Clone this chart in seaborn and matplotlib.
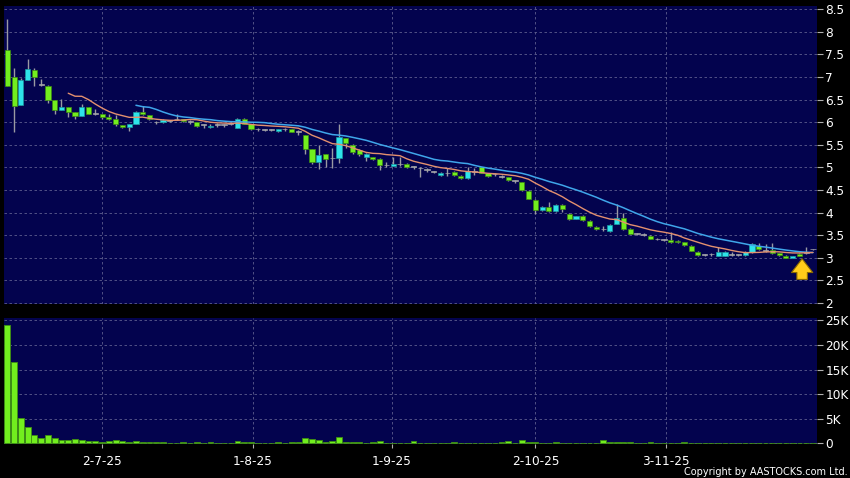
import pandas as pd
import seaborn as sns
import matplotlib.pyplot as plt
from matplotlib.ticker import FuncFormatter

# daily OHLC (one entry per trading day)
opens = [7.59, 6.99, 6.39, 6.94, 7.15, 6.83, 6.80, 6.49, 6.27, 6.34,
         6.22, 6.14, 6.34, 6.19, 6.19, 6.12, 6.08, 5.94, 5.89, 5.97,
         6.22, 6.17, 6.00, 6.00, 6.03, 6.06, 6.06, 6.01, 6.00, 5.94,
         5.89, 5.94, 5.94, 5.97, 5.88, 6.08, 5.95, 5.84, 5.83, 5.83,
         5.80, 5.84, 5.84, 5.79, 5.71, 5.40, 5.11, 5.29, 5.20, 5.20,
         5.64, 5.49, 5.38, 5.23, 5.22, 5.18, 5.05, 5.04, 5.07, 5.08,
         5.01, 4.98, 4.94, 4.90, 4.84, 4.87, 4.89, 4.81, 4.76, 4.90,
         5.01, 4.87, 4.85, 4.79, 4.78, 4.70, 4.67, 4.48, 4.28, 4.06,
         4.12, 4.03, 4.17, 3.98, 3.86, 3.92, 3.82, 3.69, 3.63, 3.60,
         3.75, 3.87, 3.64, 3.53, 3.51, 3.49, 3.41, 3.40, 3.39, 3.38,
         3.34, 3.27, 3.13, 3.06, 3.08, 3.04, 3.04, 3.06, 3.06, 3.06,
         3.12, 3.27, 3.16, 3.17, 3.10, 3.05, 3.00, 3.09, 3.11, 3.19]
highs = [8.29, 7.19, 6.98, 7.39, 7.19, 6.96, 6.82, 6.50, 6.51, 6.34,
         6.22, 6.40, 6.34, 6.29, 6.19, 6.19, 6.15, 5.94, 5.97, 6.25,
         6.36, 6.17, 6.03, 6.06, 6.05, 6.19, 6.08, 6.04, 6.01, 5.96,
         5.97, 5.99, 5.97, 6.00, 6.10, 6.10, 5.97, 5.87, 5.85, 5.85,
         5.86, 5.88, 5.85, 5.82, 5.72, 5.40, 5.49, 5.30, 5.42, 5.95,
         5.66, 5.52, 5.40, 5.32, 5.24, 5.20, 5.12, 5.24, 5.24, 5.10,
         5.04, 5.00, 4.98, 4.93, 4.90, 4.98, 4.92, 4.83, 5.00, 4.99,
         5.02, 4.88, 4.88, 4.83, 4.79, 4.73, 4.68, 4.49, 4.29, 4.14,
         4.24, 4.19, 4.18, 4.00, 3.93, 3.94, 3.83, 3.71, 3.70, 3.74,
         4.20, 4.00, 3.65, 3.55, 3.55, 3.50, 3.43, 3.42, 3.56, 3.40,
         3.35, 3.28, 3.14, 3.08, 3.10, 3.23, 3.14, 3.13, 3.08, 3.14,
         3.32, 3.32, 3.31, 3.33, 3.11, 3.06, 3.04, 3.10, 3.25, 3.20]
lows = [6.80, 5.79, 6.39, 6.94, 6.81, 6.80, 6.42, 6.19, 6.27, 6.11,
        6.08, 6.14, 6.19, 6.16, 6.08, 6.05, 5.92, 5.87, 5.80, 5.97,
        6.16, 6.05, 5.97, 5.99, 6.01, 6.04, 6.00, 5.97, 5.90, 5.88,
        5.88, 5.89, 5.90, 5.93, 5.88, 5.96, 5.82, 5.80, 5.80, 5.81,
        5.79, 5.80, 5.78, 5.71, 5.29, 5.08, 4.96, 5.00, 4.98, 5.09,
        5.42, 5.30, 5.25, 5.15, 5.16, 4.94, 5.02, 5.03, 5.04, 4.98,
        4.97, 4.79, 4.89, 4.87, 4.82, 4.82, 4.82, 4.74, 4.74, 4.83,
        4.87, 4.79, 4.81, 4.76, 4.70, 4.66, 4.48, 4.29, 3.98, 4.04,
        4.02, 4.02, 4.02, 3.84, 3.85, 3.82, 3.68, 3.61, 3.59, 3.58,
        3.74, 3.62, 3.52, 3.50, 3.49, 3.41, 3.39, 3.38, 3.33, 3.33,
        3.27, 3.14, 3.04, 3.03, 3.05, 3.03, 3.03, 3.04, 3.04, 3.05,
        3.11, 3.18, 3.12, 3.09, 3.05, 2.99, 2.99, 3.04, 3.09, 3.18]
closes = [6.80, 6.36, 6.93, 7.17, 7.00, 6.83, 6.49, 6.27, 6.34, 6.22,
          6.14, 6.34, 6.19, 6.19, 6.12, 6.07, 5.95, 5.89, 5.97, 6.22,
          6.18, 6.07, 6.00, 6.04, 6.03, 6.06, 6.02, 6.01, 5.91, 5.94,
          5.92, 5.94, 5.94, 5.97, 6.08, 5.97, 5.84, 5.84, 5.83, 5.83,
          5.85, 5.84, 5.79, 5.79, 5.40, 5.11, 5.27, 5.18, 5.20, 5.68,
          5.55, 5.35, 5.29, 5.30, 5.18, 5.05, 5.05, 5.07, 5.07, 5.00,
          5.01, 4.98, 4.94, 4.90, 4.88, 4.87, 4.83, 4.76, 4.92, 4.90,
          4.88, 4.81, 4.85, 4.79, 4.72, 4.70, 4.50, 4.31, 4.06, 4.13,
          4.03, 4.17, 4.09, 3.86, 3.92, 3.83, 3.70, 3.63, 3.63, 3.72,
          3.89, 3.63, 3.53, 3.53, 3.51, 3.42, 3.41, 3.40, 3.34, 3.34,
          3.28, 3.15, 3.06, 3.06, 3.08, 3.13, 3.13, 3.06, 3.06, 3.13,
          3.30, 3.19, 3.16, 3.10, 3.06, 2.99, 3.03, 3.05, 3.11, 3.19]
volumes = [24000, 16600, 5100, 3400, 1700, 1000, 1700, 1050, 700, 600,
           800, 600, 500, 400, 300, 500, 700, 400, 300, 500,
           300, 250, 200, 200, 150, 150, 250, 150, 300, 150,
           200, 150, 100, 100, 450, 350, 250, 150, 100, 150,
           200, 150, 200, 250, 1000, 800, 600, 300, 400, 1250,
           350, 250, 200, 150, 200, 500, 150, 100, 100, 150,
           400, 150, 150, 100, 150, 100, 200, 150, 100, 150,
           100, 100, 150, 200, 500, 150, 700, 350, 350, 150,
           150, 250, 100, 100, 100, 150, 100, 150, 600, 250,
           250, 200, 200, 100, 150, 200, 100, 100, 100, 100,
           200, 150, 100, 100, 100, 100, 100, 100, 100, 80,
           100, 100, 80, 100, 80, 100, 80, 100, 80, 60]

date_labels = ['2-7-25', '1-8-25', '1-9-25', '2-10-25', '3-11-25']
date_at = [14.0, 36.3, 56.8, 78.0, 97.3]
price_ticks = [2, 2.5, 3, 3.5, 4, 4.5, 5, 5.5, 6, 6.5, 7, 7.5, 8, 8.5]
vol_ticks = [0, 5000, 10000, 15000, 20000, 25000]
vol_labels = ['0', '5K', '10K', '15K', '20K', '25K']

navy = '#03034e'
grid_c = '#5d5d8e'
green = '#72ee1e'
cyan = '#2ee3ea'
doji = '#a4a4a8'

sns.set_theme(style='dark', rc={'axes.facecolor': navy, 'figure.facecolor': 'black'})
plt.rcParams['font.family'] = ['DejaVu Sans']

df = pd.DataFrame({'open': opens, 'high': highs, 'low': lows,
                   'close': closes, 'volume': volumes})
df['idx'] = range(len(df))
df['ma10'] = df['close'].rolling(10).mean()
df['ma20'] = df['close'].rolling(20).mean()

fig = plt.figure(figsize=(8.5, 4.78), dpi=100)
ax = fig.add_axes([0.0047, 0.364, 0.9565, 0.623])
axv = fig.add_axes([0.0047, 0.0711, 0.9565, 0.2636])

# candles: cyan = up, green = down, grey = unchanged
col = ['#9a9aa2'] * len(df)
body_col = [cyan if c > o else (green if c < o else doji) for o, c in zip(df['open'], df['close'])]
edge_col = ['#1a9aa0' if c > o else ('#3c8c10' if c < o else doji) for o, c in zip(df['open'], df['close'])]
ax.vlines(df['idx'], df['low'], df['high'], color=col, lw=1, zorder=2)
bottom = df[['open', 'close']].min(axis=1)
height = (df['close'] - df['open']).abs().clip(lower=0.014)
ax.bar(df['idx'], height, bottom=bottom, width=0.76, color=body_col,
       edgecolor=edge_col, linewidth=0.5, zorder=3)

sns.lineplot(data=df, x='idx', y='ma20', color='#3fa6ea', lw=1.1, ax=ax, zorder=4, legend=False)
sns.lineplot(data=df, x='idx', y='ma10', color='#e3906e', lw=1.0, ax=ax, zorder=4, legend=False)

ax.annotate('', xy=(117.4, 3.04), xytext=(117.4, 2.46),
            arrowprops=dict(arrowstyle='simple,head_length=0.55,head_width=0.85,tail_width=0.42',
                            fc='#ffcc1a', ec='#8a6a00', lw=0.8, mutation_scale=18), zorder=6)

# volume
sns.barplot(x=df['idx'], y=df['volume'], native_scale=True, color=green, saturation=1,
            width=0.86, edgecolor='#3e8f12', linewidth=0.6, errorbar=None, ax=axv)

for a in (ax, axv):
    a.set_xlim(-0.49, 119.6)
    a.set_xlabel('')
    a.set_ylabel('')
    a.set_xticks(date_at)
    a.grid(True, color=grid_c, ls=(0, (3, 3)), lw=0.6)
    a.set_axisbelow(True)
    a.yaxis.tick_right()
    a.tick_params(axis='y', which='both', right=True, left=False, length=4, width=0.8,
                  color='#b0b0b0', labelcolor='white', labelsize=8.7, pad=2)
    for s in a.spines.values():
        s.set_visible(False)

ax.set_ylim(1.978, 8.566)
ax.set_yticks(price_ticks)
ax.yaxis.set_major_formatter(FuncFormatter(lambda v, p: f'{v:g}'))
ax.tick_params(axis='x', length=0, labelbottom=False)

axv.set_ylim(-142, 25467)
axv.set_yticks(vol_ticks)
axv.set_yticklabels(vol_labels)
axv.set_xticklabels(date_labels)
axv.tick_params(axis='x', bottom=True, length=3, width=0.8, color='#b0b0b0',
                labelcolor='white', labelsize=8.7, pad=5)

fig.text(0.997, 0.003, 'Copyright by AASTOCKS.com Ltd.', color='white',
         fontsize=7.0, ha='right', va='bottom')

fig.savefig('out.png', dpi=100, facecolor='black')
